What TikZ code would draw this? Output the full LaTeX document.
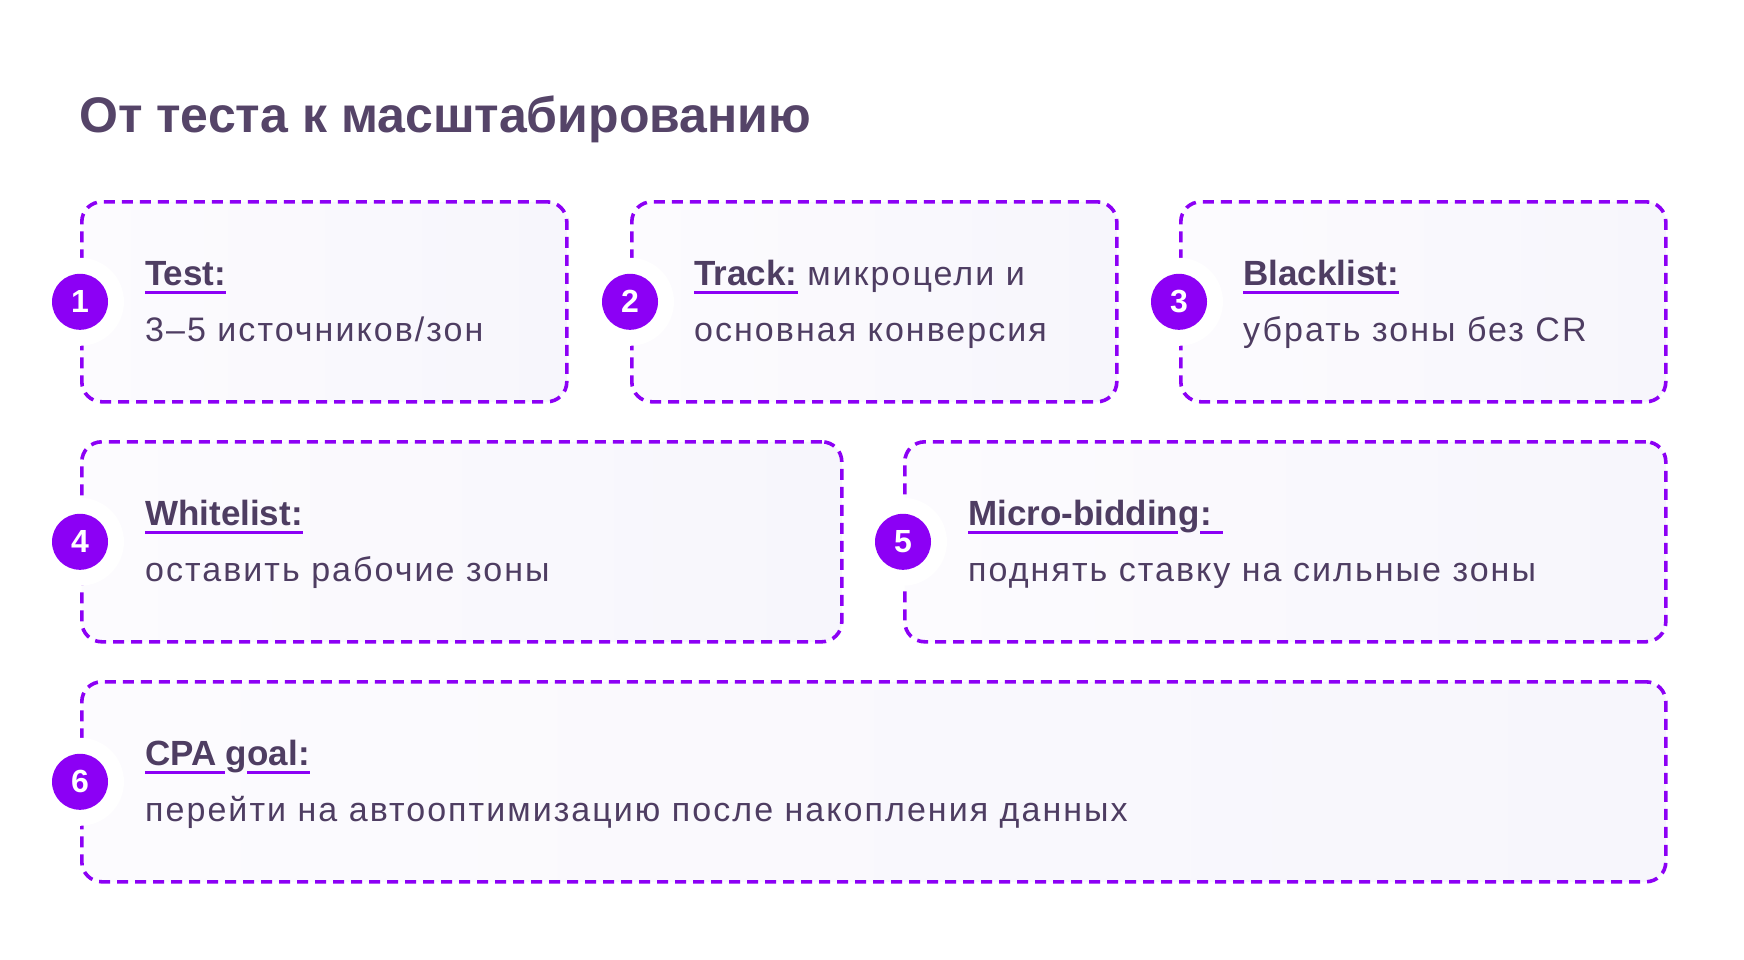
\documentclass[tikz,border=0pt]{standalone}
\usepackage{fontspec}
\setmainfont{Liberation Sans}
\newfontfamily\bodyfont[LetterSpace=6.0]{Liberation Sans}
\definecolor{acc}{HTML}{8C00F5}
\definecolor{txt}{HTML}{4E3D62}
\definecolor{ttl}{HTML}{554468}
\definecolor{boxL}{HTML}{FCFBFE}
\definecolor{boxR}{HTML}{F7F6FC}
\begin{document}
\begin{tikzpicture}[x=1pt,y=-1pt,
 card/.style={draw=acc, line width=3.6pt, dash pattern=on 11pt off 7pt, rounded corners=20pt,
   left color=boxL, right color=boxR, minimum height=200pt, anchor=north west, inner sep=0pt},
 ring/.style={circle, fill=white, minimum size=88pt, inner sep=0pt},
 badge/.style={circle, fill=acc, minimum size=56pt, inner sep=0pt, text=white,
   font=\fontsize{32}{32}\selectfont\bfseries},
 lbl/.style={anchor=base west, inner sep=0pt, text=txt, font=\fontsize{35}{35}\selectfont\bfseries},
 body/.style={anchor=base west, inner sep=0pt, text=txt, font=\bodyfont\fontsize{34}{34}\selectfont},
 ul/.style={draw=acc, line width=3pt},
 ttlstyle/.style={anchor=base west, inner sep=0pt, text=ttl, font=\fontsize{50}{50}\selectfont\bfseries}
]
\path[fill=white, use as bounding box] (0,0) rectangle (1744,960);

\node[ttlstyle] (title) at (79,133) {От теста к масштабированию};

% cards
\node[card, minimum width=485pt] (b1) at (80,200) {};
\node[card, minimum width=485pt] (b2) at (630,200) {};
\node[card, minimum width=485pt] (b3) at (1179,200) {};
\node[card, minimum width=760pt] (b4) at (80,440) {};
\node[card, minimum width=761pt] (b5) at (903,440) {};
\node[card, minimum width=1584pt] (b6) at (80,680) {};

% badges
\foreach \b/\n in {b1/1,b2/2,b3/3,b4/4,b5/5,b6/6}{
  \node[ring] (r\n) at (\b.west) {};
  \node[badge] (n\n) at (\b.west) {\n};
}

% card 1
\node[lbl] (t1) at ([xshift=65pt,yshift=16pt]b1.west) {Test:};
\node[body] (s1) at ([xshift=65pt,yshift=-40pt]b1.west) {3–5 источников/зон};
\draw[ul] ([yshift=-7pt]t1.base west) -- ([yshift=-7pt]t1.base east);

% card 2
\node[lbl] (t2) at ([xshift=64pt,yshift=16pt]b2.west) {Track:};
\node[body] (t2b) at (t2.base east) {\hspace*{0.28em}микроцели и};
\node[body] (s2) at ([xshift=64pt,yshift=-40pt]b2.west) {основная конверсия};
\draw[ul] ([yshift=-7pt]t2.base west) -- ([yshift=-7pt]t2.base east);

% card 3
\node[lbl] (t3) at ([xshift=64pt,yshift=16pt]b3.west) {Blacklist:};
\node[body] (s3) at ([xshift=64pt,yshift=-40pt]b3.west) {убрать зоны без CR};
\draw[ul] ([yshift=-7pt]t3.base west) -- ([yshift=-7pt]t3.base east);

% card 4
\node[lbl] (t4) at ([xshift=65pt,yshift=16pt]b4.west) {Whitelist:};
\node[body] (s4) at ([xshift=65pt,yshift=-40pt]b4.west) {оставить рабочие зоны};
\draw[ul] ([yshift=-7pt]t4.base west) -- ([yshift=-7pt]t4.base east);

% card 5
\node[lbl] (t5a) at ([xshift=65pt,yshift=16pt]b5.west) {Micro-biddin};
\node[lbl] (t5b) at (t5a.base east) {g};
\node[lbl] (t5c) at (t5b.base east) {:\hspace*{0.3em}};
\node[body] (s5) at ([xshift=65pt,yshift=-40pt]b5.west) {поднять ставку на сильные зоны};
\draw[ul] ([yshift=-7pt]t5a.base west) -- ([yshift=-7pt]t5a.base east);
\draw[ul] ([yshift=-7pt]t5c.base west) -- ([yshift=-7pt]t5c.base east);

% card 6
\node[lbl] (t6a) at ([xshift=65pt,yshift=16pt]b6.west) {CPA\hspace*{0.25em}};
\node[lbl] (t6b) at (t6a.base east) {g};
\node[lbl] (t6c) at (t6b.base east) {oal:};
\node[body] (s6) at ([xshift=65pt,yshift=-40pt]b6.west) {перейти на автооптимизацию после накопления данных};
\draw[ul] ([yshift=-7pt]t6a.base west) -- ([yshift=-7pt]t6a.base east);
\draw[ul] ([yshift=-7pt]t6c.base west) -- ([yshift=-7pt]t6c.base east);
\end{tikzpicture}
\end{document}
